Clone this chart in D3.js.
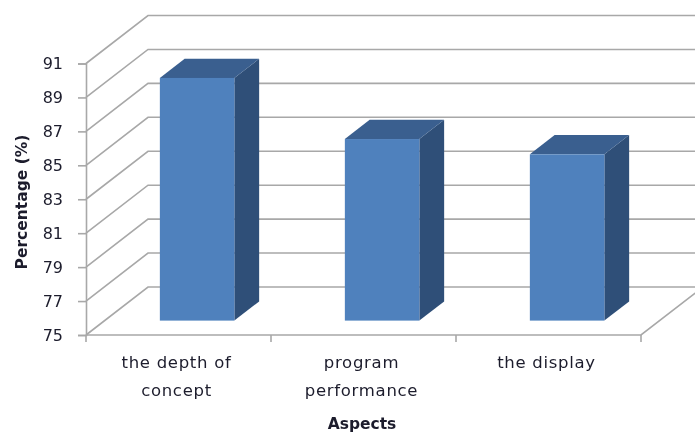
<!DOCTYPE html>
<meta charset="utf-8">
<style>
  html, body { margin: 0; padding: 0; background: #fff; overflow: hidden; }
  svg { display: block; filter: blur(0.5px); }
  text { font-family: "DejaVu Sans", sans-serif; fill: #1c1c2c; }
</style>
<script src="https://d3js.org/d3.v7.min.js"></script>
<div id="my_dataviz"></div>
<script>
    // chart values
    var categories = ["the depth of concept", "program performance", "the display"];
    var categoryLines = [["the depth of", "concept"], ["program", "performance"], ["the display"]];
    var percentages = [89.3, 85.7, 84.8];
    var yTicks = [75, 77, 79, 81, 83, 85, 87, 89, 91];
    var yTitle = "Percentage (%)";
    var xTitle = "Aspects";

    var width = 695, height = 433;

    var svg = d3.select("#my_dataviz")
        .append("svg")
        .attr("width", width)
        .attr("height", height);

    // front plane of the 3d box
    var x = d3.scaleBand().domain(categories).range([86, 641]);
    var y = d3.scaleLinear().domain([75, 91]).range([335, 63.5]);

    // how far the back wall is pushed away from the front plane
    var depthX = 62, depthY = -48;
    function px(v, d) { return v + d * depthX; }
    function py(v, d) { return v + d * depthY; }

    // gridlines: side wall then back wall
    var grid = svg.append("g")
        .attr("fill", "none")
        .attr("stroke", "#a8a8a8")
        .attr("stroke-width", 1.6);

    grid.selectAll("path")
        .data(yTicks)
        .enter()
        .append("path")
        .attr("d", function (d) {
            return d3.line()([[x.range()[0], y(d)], [px(x.range()[0], 1), py(y(d), 1)], [width, py(y(d), 1)]]);
        });

    // floor edges
    grid.append("path")
        .attr("d", d3.line()([[x.range()[0], y(75)], [x.range()[1], y(75)], [px(x.range()[1], 1), py(y(75), 1)]]));

    // left axis
    var yAxis = svg.append("g")
        .attr("transform", "translate(" + x.range()[0] + ",0)")
        .call(d3.axisLeft(y).tickValues(yTicks).tickSize(8).tickPadding(15));
    yAxis.selectAll("path, line").attr("stroke", "#a8a8a8").attr("stroke-width", 1.6);
    yAxis.selectAll("text").attr("font-size", 16);

    // bottom axis, ticks sit on the category boundaries
    var xAxis = svg.append("g")
        .attr("transform", "translate(0," + y(75) + ")")
        .call(d3.axisBottom(x).tickSize(0).tickFormat(""));
    xAxis.select("path").remove();
    xAxis.selectAll(".boundary")
        .data(categories.map(function (c) { return x(c); }).concat(x.range()[1]))
        .enter()
        .append("line")
        .attr("x1", function (d) { return d; })
        .attr("x2", function (d) { return d; })
        .attr("y1", 0)
        .attr("y2", 7)
        .attr("stroke", "#a8a8a8")
        .attr("stroke-width", 1.6);

    var labels = svg.append("g").selectAll("text")
        .data(categories)
        .enter()
        .append("text")
        .attr("text-anchor", "middle")
        .attr("font-size", 16.5)
        .attr("letter-spacing", 0.7);
    labels.each(function (c, i) {
        d3.select(this).selectAll("tspan")
            .data(categoryLines[i])
            .enter()
            .append("tspan")
            .attr("x", x(c) + x.bandwidth() / 2 - 2)
            .attr("y", function (d, j) { return 368 + j * 27.5; })
            .text(function (d) { return d; });
    });

    // bars sit in the middle of the floor depth
    var barNear = 0.3, barFar = 0.7;
    var barW = 74.5;
    var bars = svg.append("g").selectAll("g")
        .data(percentages)
        .enter()
        .append("g");

    function left(i) { return px(x(categories[i]) + (x.bandwidth() - barW) / 2, barNear); }

    // side face
    bars.append("path")
        .attr("fill", "#2f4f78")
        .attr("d", function (d, i) {
            var r = left(i) + barW, dd = barFar - barNear;
            return d3.line()([
                [r, py(y(d), barNear)],
                [r + dd * depthX, py(y(d), barFar)],
                [r + dd * depthX, py(y(75), barFar)],
                [r, py(y(75), barNear)]
            ]);
        });
    // top face
    bars.append("path")
        .attr("fill", "#3a5f8f")
        .attr("d", function (d, i) {
            var l = left(i), dd = barFar - barNear;
            return d3.line()([
                [l, py(y(d), barNear)],
                [l + dd * depthX, py(y(d), barFar)],
                [l + barW + dd * depthX, py(y(d), barFar)],
                [l + barW, py(y(d), barNear)]
            ]);
        });
    // front face
    bars.append("rect")
        .attr("fill", "#4f81bd")
        .attr("x", function (d, i) { return left(i); })
        .attr("y", function (d) { return py(y(d), barNear); })
        .attr("width", barW)
        .attr("height", function (d) { return y(75) - y(d); });

    // axis titles
    svg.append("text")
        .attr("transform", "translate(27,202) rotate(-90)")
        .attr("text-anchor", "middle")
        .attr("font-size", 15.5)
        .attr("font-weight", "bold")
        .text(yTitle);

    svg.append("text")
        .attr("x", 362)
        .attr("y", 429)
        .attr("text-anchor", "middle")
        .attr("font-size", 15.5)
        .attr("font-weight", "bold")
        .text(xTitle);
</script>
